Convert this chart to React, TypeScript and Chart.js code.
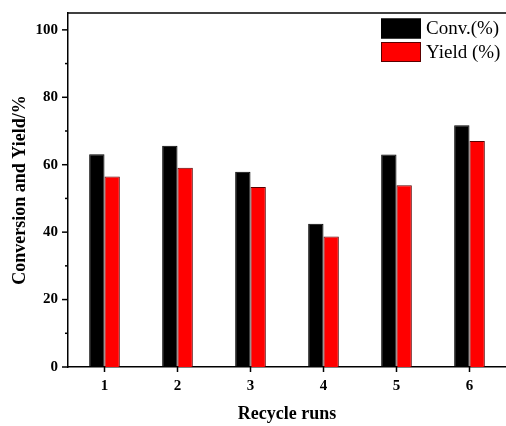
import { useEffect, useRef } from 'react';
import { Chart, registerables } from 'chart.js';

Chart.register(...registerables);

const categories = ['1', '2', '3', '4', '5', '6'];
const conversion = [63.1, 65.6, 57.9, 42.5, 63.0, 71.7];
const yieldValues = [56.5, 59.1, 53.4, 38.7, 53.9, 67.0];
const seriesLabels = ['Conv.(%)', 'Yield (%)'];
const seriesColors = ['#000000', '#ff0000'];
const seriesBorders = ['#000000', '#5a0000'];
const yMin = 0;
const yMax = 105;
const yTickValues = [0, 10, 20, 30, 40, 50, 60, 70, 80, 90, 100];

const FONT = '"Liberation Serif", "Times New Roman", Times, serif';

const framePlugin = {
  id: 'framePlugin',
  afterDraw(chart: any) {
    const { ctx, chartArea, scales } = chart;
    const { left, right, top, bottom } = chartArea;
    ctx.save();
    ctx.strokeStyle = '#000';
    ctx.lineWidth = 1.5;
    // top border
    ctx.beginPath();
    ctx.moveTo(left, top);
    ctx.lineTo(right, top);
    ctx.stroke();
    // y ticks
    for (const v of yTickValues) {
      const y = scales.y.getPixelForValue(v);
      const len = v % 20 === 0 ? 6 : 3;
      ctx.beginPath();
      ctx.moveTo(left - len, y);
      ctx.lineTo(left, y);
      ctx.stroke();
    }
    // x ticks
    categories.forEach((_, i) => {
      const x = scales.x.getPixelForValue(i);
      ctx.beginPath();
      ctx.moveTo(x, bottom);
      ctx.lineTo(x, bottom + 5);
      ctx.stroke();
    });
    // legend
    const boxW = 40;
    const boxH = 20;
    const boxX = right - 125;
    let boxY = top + 5.5;
    ctx.font = `19px ${FONT}`;
    ctx.textBaseline = 'middle';
    ctx.textAlign = 'left';
    seriesLabels.forEach((label, i) => {
      ctx.fillStyle = seriesColors[i];
      ctx.fillRect(boxX, boxY, boxW, boxH);
      ctx.lineWidth = 1;
      ctx.strokeStyle = seriesBorders[i];
      ctx.strokeRect(boxX + 0.5, boxY + 0.5, boxW - 1, boxH - 1);
      ctx.fillStyle = '#000';
      ctx.fillText(label, boxX + boxW + 5, boxY + boxH / 2 + 1);
      boxY += 23.5;
    });
    ctx.restore();
  },
};

export default function App() {
  const ref = useRef<HTMLCanvasElement | null>(null);

  useEffect(() => {
    if (!ref.current) return;
    const chart = new Chart(ref.current, {
      type: 'bar',
      data: {
        labels: categories,
        datasets: [
          {
            label: seriesLabels[0],
            data: conversion,
            backgroundColor: seriesColors[0],
            borderColor: seriesBorders[0],
            borderWidth: 1,
            categoryPercentage: 0.42,
            barPercentage: 1,
          },
          {
            label: seriesLabels[1],
            data: yieldValues,
            backgroundColor: seriesColors[1],
            borderColor: seriesBorders[1],
            borderWidth: 1,
            categoryPercentage: 0.42,
            barPercentage: 1,
          },
        ],
      },
      options: {
        responsive: false,
        animation: false,
        devicePixelRatio: 1,
        layout: { padding: { top: 13, left: 0, right: 0, bottom: 0 } },
        plugins: {
          legend: { display: false },
          tooltip: { enabled: false },
        },
        scales: {
          x: {
            afterFit: (s: any) => {
              s.height = 59;
              s.paddingLeft = 0;
              s.paddingRight = 0;
            },
            grid: { display: false, drawTicks: false },
            border: { display: true, color: '#000', width: 1.5 },
            ticks: {
              padding: 10,
              color: '#000',
              font: { family: FONT, size: 15, weight: 'bold' },
            },
            title: {
              display: true,
              text: 'Recycle runs',
              color: '#000',
              font: { family: FONT, size: 18, weight: 'bold' },
              padding: { top: 0, bottom: 1 },
            },
          },
          y: {
            min: yMin,
            max: yMax,
            afterFit: (s: any) => {
              s.width = 68;
              s.paddingTop = 0;
              s.paddingBottom = 0;
            },
            grid: { display: false, drawTicks: false },
            border: { display: true, color: '#000', width: 1.5 },
            ticks: {
              stepSize: 20,
              includeBounds: false,
              padding: 10,
              color: '#000',
              font: { family: FONT, size: 15, weight: 'bold' },
              callback: (v: any) => (Number(v) % 20 === 0 ? String(v) : ''),
            },
            title: {
              display: true,
              text: 'Conversion and Yield/%',
              color: '#000',
              font: { family: FONT, size: 18, weight: 'bold' },
              padding: { top: 10, bottom: 0 },
            },
          },
        },
      },
      plugins: [framePlugin],
    });
    return () => chart.destroy();
  }, []);

  return (
    <div style={{ position: 'absolute', left: 0, top: 0, width: 506, height: 426, background: '#fff' }}>
      <canvas ref={ref} width={506} height={426} />
    </div>
  );
}
